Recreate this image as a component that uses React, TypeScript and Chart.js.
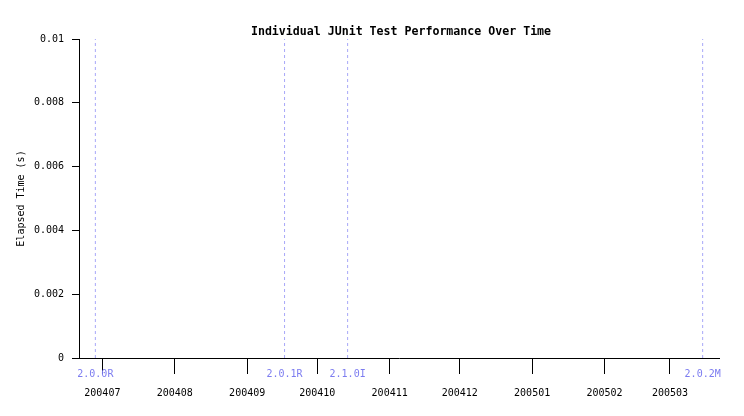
import React, { useEffect, useRef } from 'react';
import { Chart, registerables } from 'chart.js';

Chart.register(...registerables);

const DAY = 86400000;
const dayNum = (s: string) => {
  const [y, m, d] = s.split('-').map(Number);
  return Date.UTC(y, m - 1, d) / DAY;
};

const chartTitle = 'Individual JUnit Test Performance Over Time';
const yAxisTitle = 'Elapsed Time (s)';
const monthLabels = ['200407', '200408', '200409', '200410', '200411', '200412', '200501', '200502', '200503'];
const monthStarts = ['2004-07-01', '2004-08-01', '2004-09-01', '2004-10-01', '2004-11-01', '2004-12-01', '2005-01-01', '2005-02-01', '2005-03-01'];
const versionLabels = ['2.0.0R', '2.0.1R', '2.1.0I', '2.0.2M'];
const versionDates = ['2004-06-28', '2004-09-17', '2004-10-14', '2005-03-15'];
const yTicks = [0, 0.002, 0.004, 0.006, 0.008, 0.01];
const xStart = '2004-06-21';
const xEnd = '2005-03-22';

const FONT = "'DejaVu Sans Mono', monospace";
const LINE_COLOR = '#a8a8f8';
const LABEL_COLOR = '#7c7cf0';

export default function App() {
  const ref = useRef<HTMLCanvasElement>(null);

  useEffect(() => {
    if (!ref.current) return;
    const monthDays = monthStarts.map(dayNum);
    const extrasPlugin = {
      id: 'extras',
      afterDraw(chart: any) {
        const { ctx, chartArea } = chart;
        const xs = chart.scales.x;
        ctx.save();
        // title centred over the plot area
        ctx.font = `bold 11.6px ${FONT}`;
        ctx.fillStyle = '#000';
        ctx.textAlign = 'center';
        ctx.textBaseline = 'middle';
        ctx.fillText(chartTitle, (chartArea.left + chartArea.right) / 2 + 2, 32);
        // version labels
        ctx.font = `10px ${FONT}`;
        ctx.fillStyle = LABEL_COLOR;
        versionDates.forEach((d, i) => {
          const px = xs.getPixelForValue(dayNum(d));
          ctx.fillText(versionLabels[i], px, xs.top + 16);
        });
        ctx.restore();
      },
    };

    const chart = new Chart(ref.current, {
      type: 'line',
      data: {
        datasets: versionDates.map((d, i) => ({
          label: versionLabels[i],
          data: [
            { x: dayNum(d), y: yTicks[0] },
            { x: dayNum(d), y: yTicks[yTicks.length - 1] },
          ],
          borderColor: LINE_COLOR,
          borderWidth: 1,
          borderDash: [3, 3],
          pointRadius: 0,
          fill: false,
        })),
      },
      options: {
        animation: false,
        responsive: false,
        layout: { padding: { left: 0, right: 25, top: 39, bottom: 0 } },
        plugins: {
          legend: { display: false },
          tooltip: { enabled: false },
          title: { display: false },
        },
        scales: {
          x: {
            type: 'linear',
            min: dayNum(xStart),
            max: dayNum(xEnd),
            afterBuildTicks: (s: any) => {
              s.ticks = monthDays.map((v) => ({ value: v }));
            },
            afterFit: (s: any) => {
              s.height = 58;
            },
            ticks: {
              autoSkip: false,
              maxRotation: 0,
              color: '#000',
              font: { family: FONT, size: 10 },
              padding: 13,
              callback: (v: any) => {
                const i = monthDays.indexOf(Number(v));
                return i >= 0 ? monthLabels[i] : '';
              },
            },
            grid: { drawOnChartArea: false, drawTicks: true, tickLength: 16, color: '#000' },
            border: { display: true, color: '#000', width: 1 },
          },
          y: {
            type: 'linear',
            min: yTicks[0],
            max: yTicks[yTicks.length - 1],
            afterBuildTicks: (s: any) => {
              s.ticks = yTicks.map((v) => ({ value: v }));
            },
            afterFit: (s: any) => {
              s.width = 79;
            },
            ticks: {
              color: '#000',
              font: { family: FONT, size: 10 },
              padding: 8,
              callback: (v: any) => String(Number(Number(v).toFixed(4))),
            },
            title: {
              display: true,
              text: yAxisTitle,
              color: '#000',
              font: { family: FONT, size: 10 },
              padding: { top: 15, bottom: 0 },
            },
            grid: { drawOnChartArea: false, drawTicks: true, tickLength: 7, color: '#000' },
            border: { display: true, color: '#000', width: 1 },
          },
        },
      },
      plugins: [extrasPlugin],
    } as any);
    return () => chart.destroy();
  }, []);

  return (
    <div style={{ position: 'absolute', left: 0, top: 0, width: 744, height: 416, background: '#fff' }}>
      <canvas ref={ref} width={744} height={416} />
    </div>
  );
}
